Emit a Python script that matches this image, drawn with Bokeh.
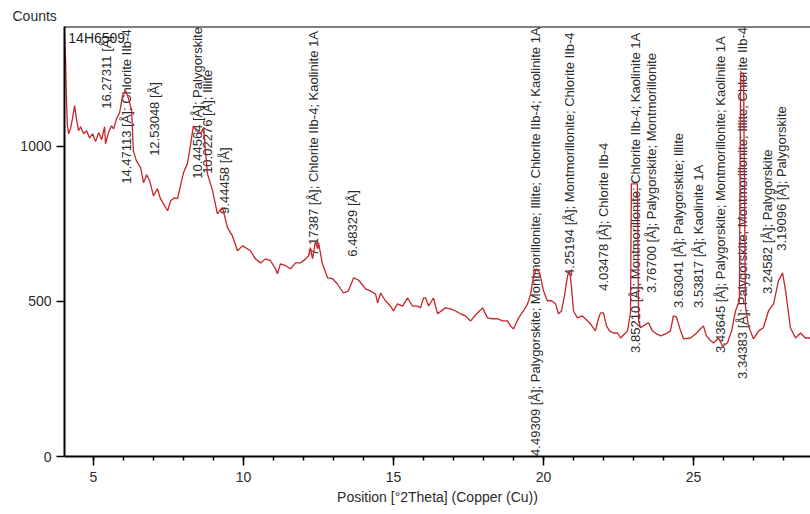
import math
from bokeh.plotting import figure
from bokeh.models import ColumnDataSource, Range1d, SingleIntervalTicker, Label, Span, Title
from bokeh.core.properties import value
from bokeh.embed import file_html
from bokeh.resources import INLINE

# ---- measured pattern (2Theta, counts) ----
two_theta = [4.03, 4.07, 4.10, 4.13, 4.17, 4.23, 4.30, 4.37, 4.43, 4.50, 4.57, 4.67, 4.77, 4.87, 4.97,
             5.07, 5.17, 5.27, 5.37, 5.40, 5.50, 5.60, 5.67, 5.77, 5.87, 5.97, 6.07, 6.17, 6.27, 6.33,
             6.43, 6.57, 6.67, 6.77, 6.87, 7.00, 7.13, 7.23, 7.33, 7.47, 7.57, 7.70, 7.80, 7.90, 8.00,
             8.13, 8.23, 8.33, 8.43, 8.57, 8.67, 8.73, 8.80, 8.97, 9.13, 9.30, 9.47, 9.63, 9.80, 9.97,
             10.23, 10.40, 10.57, 10.73, 10.90, 11.07, 11.13, 11.23, 11.40, 11.57, 11.73, 11.90, 12.07,
             12.17, 12.23, 12.30, 12.40, 12.47, 12.50, 12.63, 12.80, 12.97, 13.13, 13.33, 13.50, 13.67,
             13.83, 14.07, 14.23, 14.40, 14.47, 14.57, 14.73, 14.90, 15.00, 15.13, 15.30, 15.47, 15.63,
             15.80, 15.90, 16.00, 16.07, 16.17, 16.33, 16.47, 16.73, 16.90, 17.07, 17.23, 17.40, 17.57,
             17.77, 17.97, 18.13, 18.30, 18.47, 18.63, 18.80, 18.90, 19.00, 19.17, 19.33, 19.47, 19.57,
             19.67, 19.77, 19.87, 20.00, 20.13, 20.27, 20.40, 20.50, 20.60, 20.70, 20.80, 20.87, 20.93,
             21.00, 21.13, 21.30, 21.47, 21.57, 21.73, 21.83, 21.90, 22.00, 22.10, 22.20, 22.33, 22.47,
             22.57, 22.70, 22.80, 22.90, 22.93, 23.13, 23.17, 23.23, 23.33, 23.50, 23.63, 23.77, 23.90,
             24.07, 24.23, 24.33, 24.43, 24.57, 24.67, 24.90, 25.07, 25.23, 25.33, 25.43, 25.57, 25.67,
             25.83, 25.97, 26.13, 26.27, 26.40, 26.53, 26.57, 26.67, 26.73, 26.83, 27.00, 27.17, 27.33,
             27.50, 27.67, 27.83, 27.97, 28.07, 28.23, 28.40, 28.57, 28.73, 28.90]
counts = [1363, 1276, 1147, 1066, 1040, 1056, 1089, 1131, 1089, 1050, 1063, 1040, 1050, 1027, 1040,
          1015, 1044, 1021, 1063, 1008, 1044, 1066, 1056, 1089, 1108, 1163, 1179, 1153, 1115, 985,
          953, 931, 882, 908, 889, 840, 863, 831, 815, 792, 824, 834, 831, 873, 915,
          944, 1002, 1066, 1050, 1040, 1060, 985, 911, 856, 782, 802, 737, 711, 663, 679,
          663, 637, 624, 637, 631, 605, 589, 621, 615, 605, 624, 624, 637,
          647, 673, 637, 695, 669, 689, 621, 576, 573, 556, 527, 534, 576,
          569, 540, 534, 524, 495, 527, 502, 485, 469, 492, 485, 511, 485,
          485, 479, 511, 511, 485, 511, 460, 479, 476, 469, 460, 453, 437,
          460, 479, 447, 444, 444, 437, 437, 421, 411, 447, 469, 492, 524,
          582, 605, 592, 534, 502, 502, 492, 460, 469, 518, 582, 600, 550,
          469, 447, 453, 437, 427, 405, 444, 463, 463, 421, 405, 398, 398,
          382, 395, 405, 463, 879, 879, 437, 415, 421, 431, 405, 395, 389,
          395, 405, 453, 450, 405, 379, 382, 395, 411, 421, 389, 373, 366,
          382, 356, 366, 405, 469, 502, 1234, 1234, 485, 421, 379, 405, 415,
          469, 492, 566, 592, 534, 415, 382, 398, 382, 382]

# ---- peak annotations ----
peak_d = ["16.27311", "14.47113", "12.53048", "10.44564", "10.02276", "9.44458", "7.17387",
          "6.48329", "4.49309", "4.25194", "4.03478", "3.85210", "3.76700", "3.63041", "3.53817",
          "3.43645", "3.34383", "3.24582", "3.19096"]
peak_phases = ["", "Chlorite IIb-4", "", "Palygorskite", "Illite", "",
               "Chlorite IIb-4; Kaolinite 1A", "",
               "Palygorskite; Montmorillonite; Illite; Chlorite IIb-4; Kaolinite 1A",
               "Montmorillonite; Chlorite IIb-4", "Chlorite IIb-4",
               "Montmorillonite; Chlorite IIb-4; Kaolinite 1A", "Palygorskite; Montmorillonite",
               "Palygorskite; Illite", "Kaolinite 1A",
               "Palygorskite; Montmorillonite; Kaolinite 1A",
               "Palygorskite; Montmorillonite; Illite; Chlorite IIb-4",
               "Palygorskite", "Palygorskite"]
peak_pos = [5.426, 6.103, 7.049, 8.458, 8.816, 9.357, 12.328, 13.647, 19.742, 20.875, 22.013,
            23.07, 23.60, 24.50, 25.15, 25.906, 26.636, 27.458, 27.938]
label_base = [1121, 879, 969, 895, 911, 782, 647, 644, 2, 582, 534, 334, 527, 479, 479, 334, 250,
              524, 663]

labels = [d + " [Å]" + ("; " + ph if ph else "") for d, ph in zip(peak_d, peak_phases)]

FONT = "Liberation Sans"
TXT = "#2b2b2b"
Y_TOP = 1386

p = figure(width=810, height=514, output_backend="svg", toolbar_location=None,
           x_range=Range1d(4.033, 28.9), y_range=Range1d(0, Y_TOP),
           min_border_left=64, min_border_right=0, min_border_top=26, min_border_bottom=58)
p.grid.visible = False
p.outline_line_color = None
p.background_fill_color = "white"
p.border_fill_color = "white"

p.add_layout(Title(text="Counts", align="left", offset=-52, standoff=5,
                   text_font=FONT, text_font_size="14px", text_font_style="normal",
                   text_color=TXT), "above")

src = ColumnDataSource(dict(x=peak_pos, y=label_base, t=labels))
p.text(x="x", y="y", text="t", source=src, angle=math.pi / 2, text_align="left",
       text_baseline="middle", text_font=value(FONT), text_font_size="13px", text_color=TXT)

p.line(two_theta, counts, line_color="#c4242a", line_width=1.3)

# axes
xa = p.xaxis[0]
xa.ticker = SingleIntervalTicker(interval=5, num_minor_ticks=5)
xa.axis_label = "Position [°2Theta] (Copper (Cu))"
ya = p.yaxis[0]
ya.ticker = SingleIntervalTicker(interval=500, num_minor_ticks=0)
for ax in (xa, ya):
    ax.axis_line_color = "black"
    ax.axis_line_width = 2
    ax.major_tick_line_color = "black"
    ax.major_tick_line_width = 1.5
    ax.major_tick_in = 0
    ax.major_label_text_font = FONT
    ax.major_label_text_font_size = "14px"
    ax.major_label_text_color = TXT
    ax.axis_label_text_font = FONT
    ax.axis_label_text_font_size = "14px"
    ax.axis_label_text_font_style = "normal"
    ax.axis_label_text_color = TXT
xa.major_tick_out = 9
xa.minor_tick_out = 4
xa.minor_tick_in = 0
xa.minor_tick_line_color = "black"
xa.minor_tick_line_width = 1.5
xa.major_label_standoff = 6
xa.axis_label_standoff = 4
ya.major_tick_out = 8
ya.minor_tick_line_color = None

p.add_layout(Span(location=Y_TOP, dimension="width", line_color="black", line_width=2))

p.add_layout(Label(x=4.16, y=1350, text="14H6509", text_font=FONT, text_font_size="14px",
                   text_color="#1e1e1e", text_baseline="middle", text_align="left"))

open("out.html", "w").write(file_html(p, INLINE))
